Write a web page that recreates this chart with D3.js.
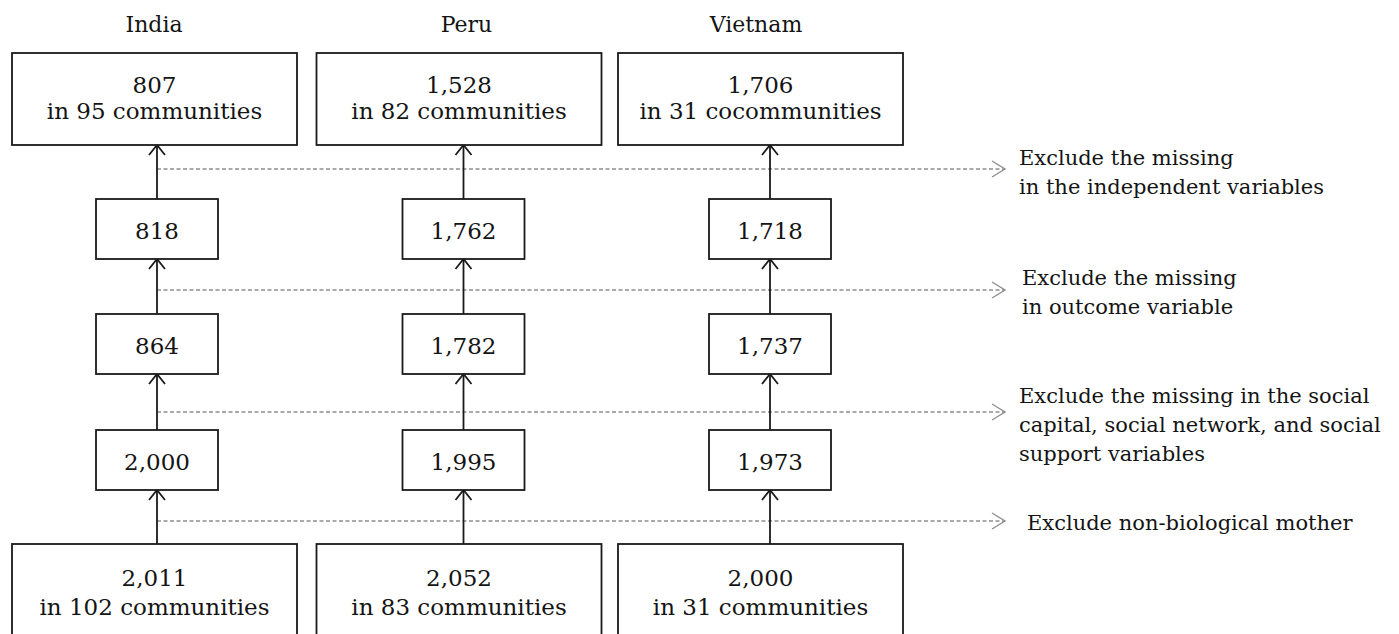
<!DOCTYPE html>
<html>
<head>
<meta charset="utf-8">
<script src="https://cdn.jsdelivr.net/npm/d3@7"></script>
<style>
  body { margin: 0; background: #fff; }
  text { font-family: "DejaVu Serif", serif; fill: #141414; }
</style>
</head>
<body>
<div id="frame"></div>
<script>
// data (bottom stage = start sample)
const countries = ["India", "Peru", "Vietnam"];
const startN = [2011, 2052, 2000];
const startCommunities = ["in 102 communities", "in 83 communities", "in 31 communities"];
const afterMother = [2000, 1995, 1973];
const afterSocial = [864, 1782, 1737];
const afterOutcome = [818, 1762, 1718];
const finalN = [807, 1528, 1706];
const finalCommunities = ["in 95 communities", "in 82 communities", "in 31 cocommunities"];

// exclusion notes, top to bottom
const exclusions = [
    ["Exclude the missing", "in the independent variables"],
    ["Exclude the missing", "in outcome variable"],
    ["Exclude the missing in the social", "capital, social network, and social", "support variables"],
    ["Exclude non-biological mother"]
];

// layout
const frameWidth = 1399;
const frameHeight = 634;
const bigW = 285, bigH = 92;
const smallW = 122, smallH = 60;
const noteX = 1019;
const fmt = d3.format(",");
// small per-column nudges so the big boxes / titles sit like the original
const bigDx = [-145, -147, -152];
const titleDx = [-3, 3, -14];

let svg = d3.select("#frame")
        .append("svg")
        .attr("width", frameWidth)
        .attr("height", frameHeight);

// column positions (arrow axis of each country)
let xCol = d3.scalePoint()
        .domain(countries)
        .range([157, 770]);

// stage rows, top to bottom
let stages = ["final", "outcome", "social", "mother", "start"];
let rowTop = d3.scaleOrdinal()
        .domain(stages)
        .range([53, 199, 314, 430, 544]);
let rowH = d => (d == "final" || d == "start") ? bigH : smallH;

// dashed exclusion lines sit between the stages
let dashY = d3.scaleOrdinal()
        .domain(d3.range(exclusions.length))
        .range([169, 290, 412, 521]);
let noteDy = [-4, -5, -9, 9];
let noteDx = [0, 3, 0, 8];

let stageValues = {
    final: finalN,
    outcome: afterOutcome,
    social: afterSocial,
    mother: afterMother,
    start: startN
};

// titles
svg.selectAll(".title")
        .data(countries)
        .enter()
        .append("text")
        .attr("class", "title")
        .attr("x", (d, i) => xCol(d) + titleDx[i])
        .attr("y", 32)
        .attr("text-anchor", "middle")
        .style("font-size", "22px")
        .text(d => d);

// dashed lines with open arrowheads
exclusions.forEach((note, i) => {
    let y = dashY(i);
    let x0 = xCol(countries[0]);
    let x1 = 1005;
    svg.append("line")
        .attr("x1", x0).attr("y1", y)
        .attr("x2", x1).attr("y2", y)
        .style("stroke", "#8f8f8f")
        .style("stroke-width", 1.4)
        .style("stroke-dasharray", "4,2.5");
    svg.append("path")
        .attr("d", d3.line()([[x1 - 13, y - 8], [x1, y], [x1 - 13, y + 8]]))
        .style("fill", "none")
        .style("stroke", "#8f8f8f")
        .style("stroke-width", 1.4);

    let t = svg.append("text")
        .attr("x", noteX + noteDx[i])
        .attr("y", y + noteDy[i])
        .style("font-size", "21px");
    note.forEach((line, j) => {
        t.append("tspan")
            .attr("x", noteX + noteDx[i])
            .attr("dy", j == 0 ? 0 : 29)
            .text(line);
    });
});

// arrows from each stage up to the next one
countries.forEach(c => {
    let x = xCol(c);
    for (let s = 1; s < stages.length; s++) {
        let yFrom = rowTop(stages[s]);
        let yTo = rowTop(stages[s - 1]) + rowH(stages[s - 1]);
        svg.append("line")
            .attr("x1", x).attr("y1", yFrom)
            .attr("x2", x).attr("y2", yTo)
            .style("stroke", "#1a1a1a")
            .style("stroke-width", 1.8);
        svg.append("path")
            .attr("d", d3.line()([[x - 8, yTo + 10], [x, yTo], [x + 8, yTo + 10]]))
            .style("fill", "none")
            .style("stroke", "#1a1a1a")
            .style("stroke-width", 1.8);
    }
});

// boxes
stages.forEach(s => {
    let big = (s == "final" || s == "start");
    let w = big ? bigW : smallW;
    let h = rowH(s);
    let g = svg.append("g").attr("class", "stage-" + s);

    let boxes = g.selectAll("g")
            .data(countries.map((c, i) => ({
                country: c,
                idx: i,
                n: stageValues[s][i],
                sub: s == "final" ? finalCommunities[i] : (s == "start" ? startCommunities[i] : null)
            })))
            .enter()
            .append("g")
            .attr("transform", d => "translate(" + (xCol(d.country) + (big ? bigDx[d.idx] : -61)) + "," + rowTop(s) + ")");

    boxes.append("rect")
            .attr("width", w)
            .attr("height", h)
            .style("fill", "#fff")
            .style("stroke", "#1a1a1a")
            .style("stroke-width", 1.8);

    boxes.append("text")
            .attr("x", w / 2)
            .attr("y", s == "start" ? 42 : 40)
            .attr("text-anchor", "middle")
            .style("font-size", "23px")
            .text(d => fmt(d.n));

    boxes.filter(d => d.sub)
            .append("text")
            .attr("x", w / 2)
            .attr("y", s == "final" ? 66 : 71)
            .attr("text-anchor", "middle")
            .style("font-size", "23px")
            .text(d => d.sub);
});
</script>
</body>
</html>
